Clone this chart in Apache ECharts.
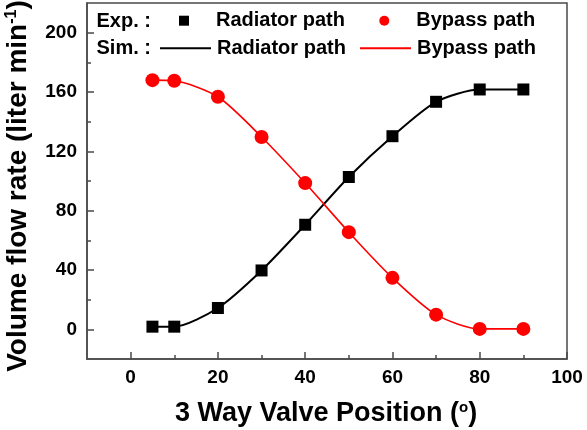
<!DOCTYPE html>
<html><head><meta charset="utf-8">
<script src="https://cdn.jsdelivr.net/npm/echarts@6/dist/echarts.min.js"></script>
<style>html,body{margin:0;padding:0;background:#fff}#c{width:587px;height:430px}</style>
</head><body><div id="c"></div>
<script>
// ---- data ----
const positions = [5, 10, 20, 30, 40, 50, 60, 70, 80, 90];
const radiatorExp = [1.8, 1.8, 14.4, 39.7, 70.5, 102.7, 130.2, 153.4, 161.7, 161.7];
const bypassExp = [168, 167.6, 156.8, 129.7, 98.6, 65.5, 34.7, 9.9, 0.3, 0.3];
const radiatorSim = [1.8, 1.8, 14.4, 39.7, 70.5, 102.7, 130.2, 153.4, 161.7, 161.7];
const bypassSim = [168, 167.6, 156.8, 129.7, 98.6, 65.5, 34.7, 9.9, 0.3, 0.3];
const xMajorTicks = [0, 20, 40, 60, 80, 100];
const xMinorTicks = [10, 30, 50, 70, 90];
const yMajorTicks = [0, 40, 80, 120, 160, 200];
const yMinorTicks = [20, 60, 100, 140, 180];
const seriesNames = ['Exp. Radiator path', 'Exp. Bypass path', 'Sim. Radiator path', 'Sim. Bypass path'];

const FONT = "'Liberation Sans', Arial, Helvetica, sans-serif";
const AX = '#4a4a4a';
const pair = (xs, ys) => xs.map((x, i) => [x, ys[i]]);
const chart = echarts.init(document.getElementById('c'), null, {renderer: 'canvas'});

const labelStyle = {fontSize: 19, fontWeight: 'bold', color: '#000', fontFamily: FONT};
const legendFmt = n => n.replace(/^(Exp|Sim)\. /, '');
function mkLegend(name, left, top, w, h, padLeft, extra) {
  return Object.assign({data: [name], left: left, top: top, itemWidth: w, itemHeight: h, padding: 0,
    selectedMode: false, formatter: legendFmt, orient: 'horizontal',
    textStyle: {fontSize: 20, fontWeight: 'bold', color: '#000', fontFamily: FONT, padding: [0, 0, 0, padLeft]}}, extra || {});
}

const option = {
  animation: false,
  backgroundColor: '#fff',
  grid: {left: 87, right: 20, top: 3, bottom: 71, show: true, borderColor: AX, borderWidth: 1.5, backgroundColor: 'transparent', containLabel: false},
  xAxis: [
    {type: 'value', min: -10, max: 100, position: 'bottom',
      axisLine: {show: true, onZero: false, lineStyle: {color: AX, width: 1.5}},
      axisTick: {show: true, inside: true, length: 7, customValues: xMajorTicks, lineStyle: {color: AX, width: 1.5}},
      axisLabel: Object.assign({customValues: xMajorTicks, margin: 9}, labelStyle),
      splitLine: {show: false}},
    {type: 'value', min: -10, max: 100, position: 'bottom',
      axisLine: {show: false, onZero: false},
      axisTick: {show: true, inside: true, length: 4, customValues: xMinorTicks, lineStyle: {color: AX, width: 1.5}},
      axisLabel: {show: false}, splitLine: {show: false}}
  ],
  yAxis: [
    {type: 'value', min: -20, max: 220, position: 'left',
      axisLine: {show: true, onZero: false, lineStyle: {color: AX, width: 1.5}},
      axisTick: {show: true, inside: true, length: 7, customValues: yMajorTicks, lineStyle: {color: AX, width: 1.5}},
      axisLabel: Object.assign({customValues: yMajorTicks, margin: 10}, labelStyle),
      splitLine: {show: false}},
    {type: 'value', min: -20, max: 220, position: 'left',
      axisLine: {show: false, onZero: false},
      axisTick: {show: true, inside: true, length: 4, customValues: yMinorTicks, lineStyle: {color: AX, width: 1.5}},
      axisLabel: {show: false}, splitLine: {show: false}}
  ],
  legend: [
    mkLegend(seriesNames[0], 179, 10.7, 10, 10, 22),
    mkLegend(seriesNames[1], 379.3, 10.7, 10, 10, 22),
    mkLegend(seriesNames[2], 159, 38.3, 51, 12, 1, {itemStyle: {opacity: 0}}),
    mkLegend(seriesNames[3], 359, 38.3, 51, 12, 1, {itemStyle: {opacity: 0}})
  ],
  graphic: [
    {type: 'text', x: 96.5, y: 21, style: {text: 'Exp. :', font: 'bold 20px ' + FONT, fill: '#000', verticalAlign: 'middle', align: 'left'}},
    {type: 'text', x: 96.5, y: 48.5, style: {text: 'Sim. :', font: 'bold 20px ' + FONT, fill: '#000', verticalAlign: 'middle', align: 'left'}},
    {type: 'text', x: 326, y: 414, style: {
      text: '3 Way Valve Position ({sup|o})', font: 'bold 27px ' + FONT, fill: '#000', align: 'center', verticalAlign: 'middle',
      rich: {sup: {fontSize: 15, fontWeight: 'bold', fontFamily: FONT, verticalAlign: 'top', fill: '#000', color: '#000'}}}},
    {type: 'text', x: 18, y: 186, rotation: Math.PI / 2, style: {
      text: 'Volume flow rate (liter min{sup|-1})', font: 'bold 28px ' + FONT, fill: '#000', align: 'center', verticalAlign: 'middle',
      rich: {sup: {fontSize: 16, fontWeight: 'bold', fontFamily: FONT, verticalAlign: 'top', fill: '#000', color: '#000'}}}}
  ],
  series: [
    {name: seriesNames[2], type: 'line', data: pair(positions, radiatorSim), smooth: 0.25, symbol: 'none', showSymbol: false,
      lineStyle: {color: '#000', width: 2}, itemStyle: {color: '#000'}, z: 2},
    {name: seriesNames[3], type: 'line', data: pair(positions, bypassSim), smooth: 0.25, symbol: 'none', showSymbol: false,
      lineStyle: {color: '#ff0000', width: 1.6}, itemStyle: {color: '#ff0000'}, z: 2},
    {name: seriesNames[0], type: 'scatter', data: pair(positions, radiatorExp), symbol: 'rect', symbolSize: 12,
      itemStyle: {color: '#000', opacity: 1}, z: 3},
    {name: seriesNames[1], type: 'scatter', data: pair(positions, bypassExp), symbol: 'circle', symbolSize: 14,
      itemStyle: {color: '#ff0000', opacity: 1}, z: 3}
  ]
};
chart.setOption(option);
</script></body></html>
